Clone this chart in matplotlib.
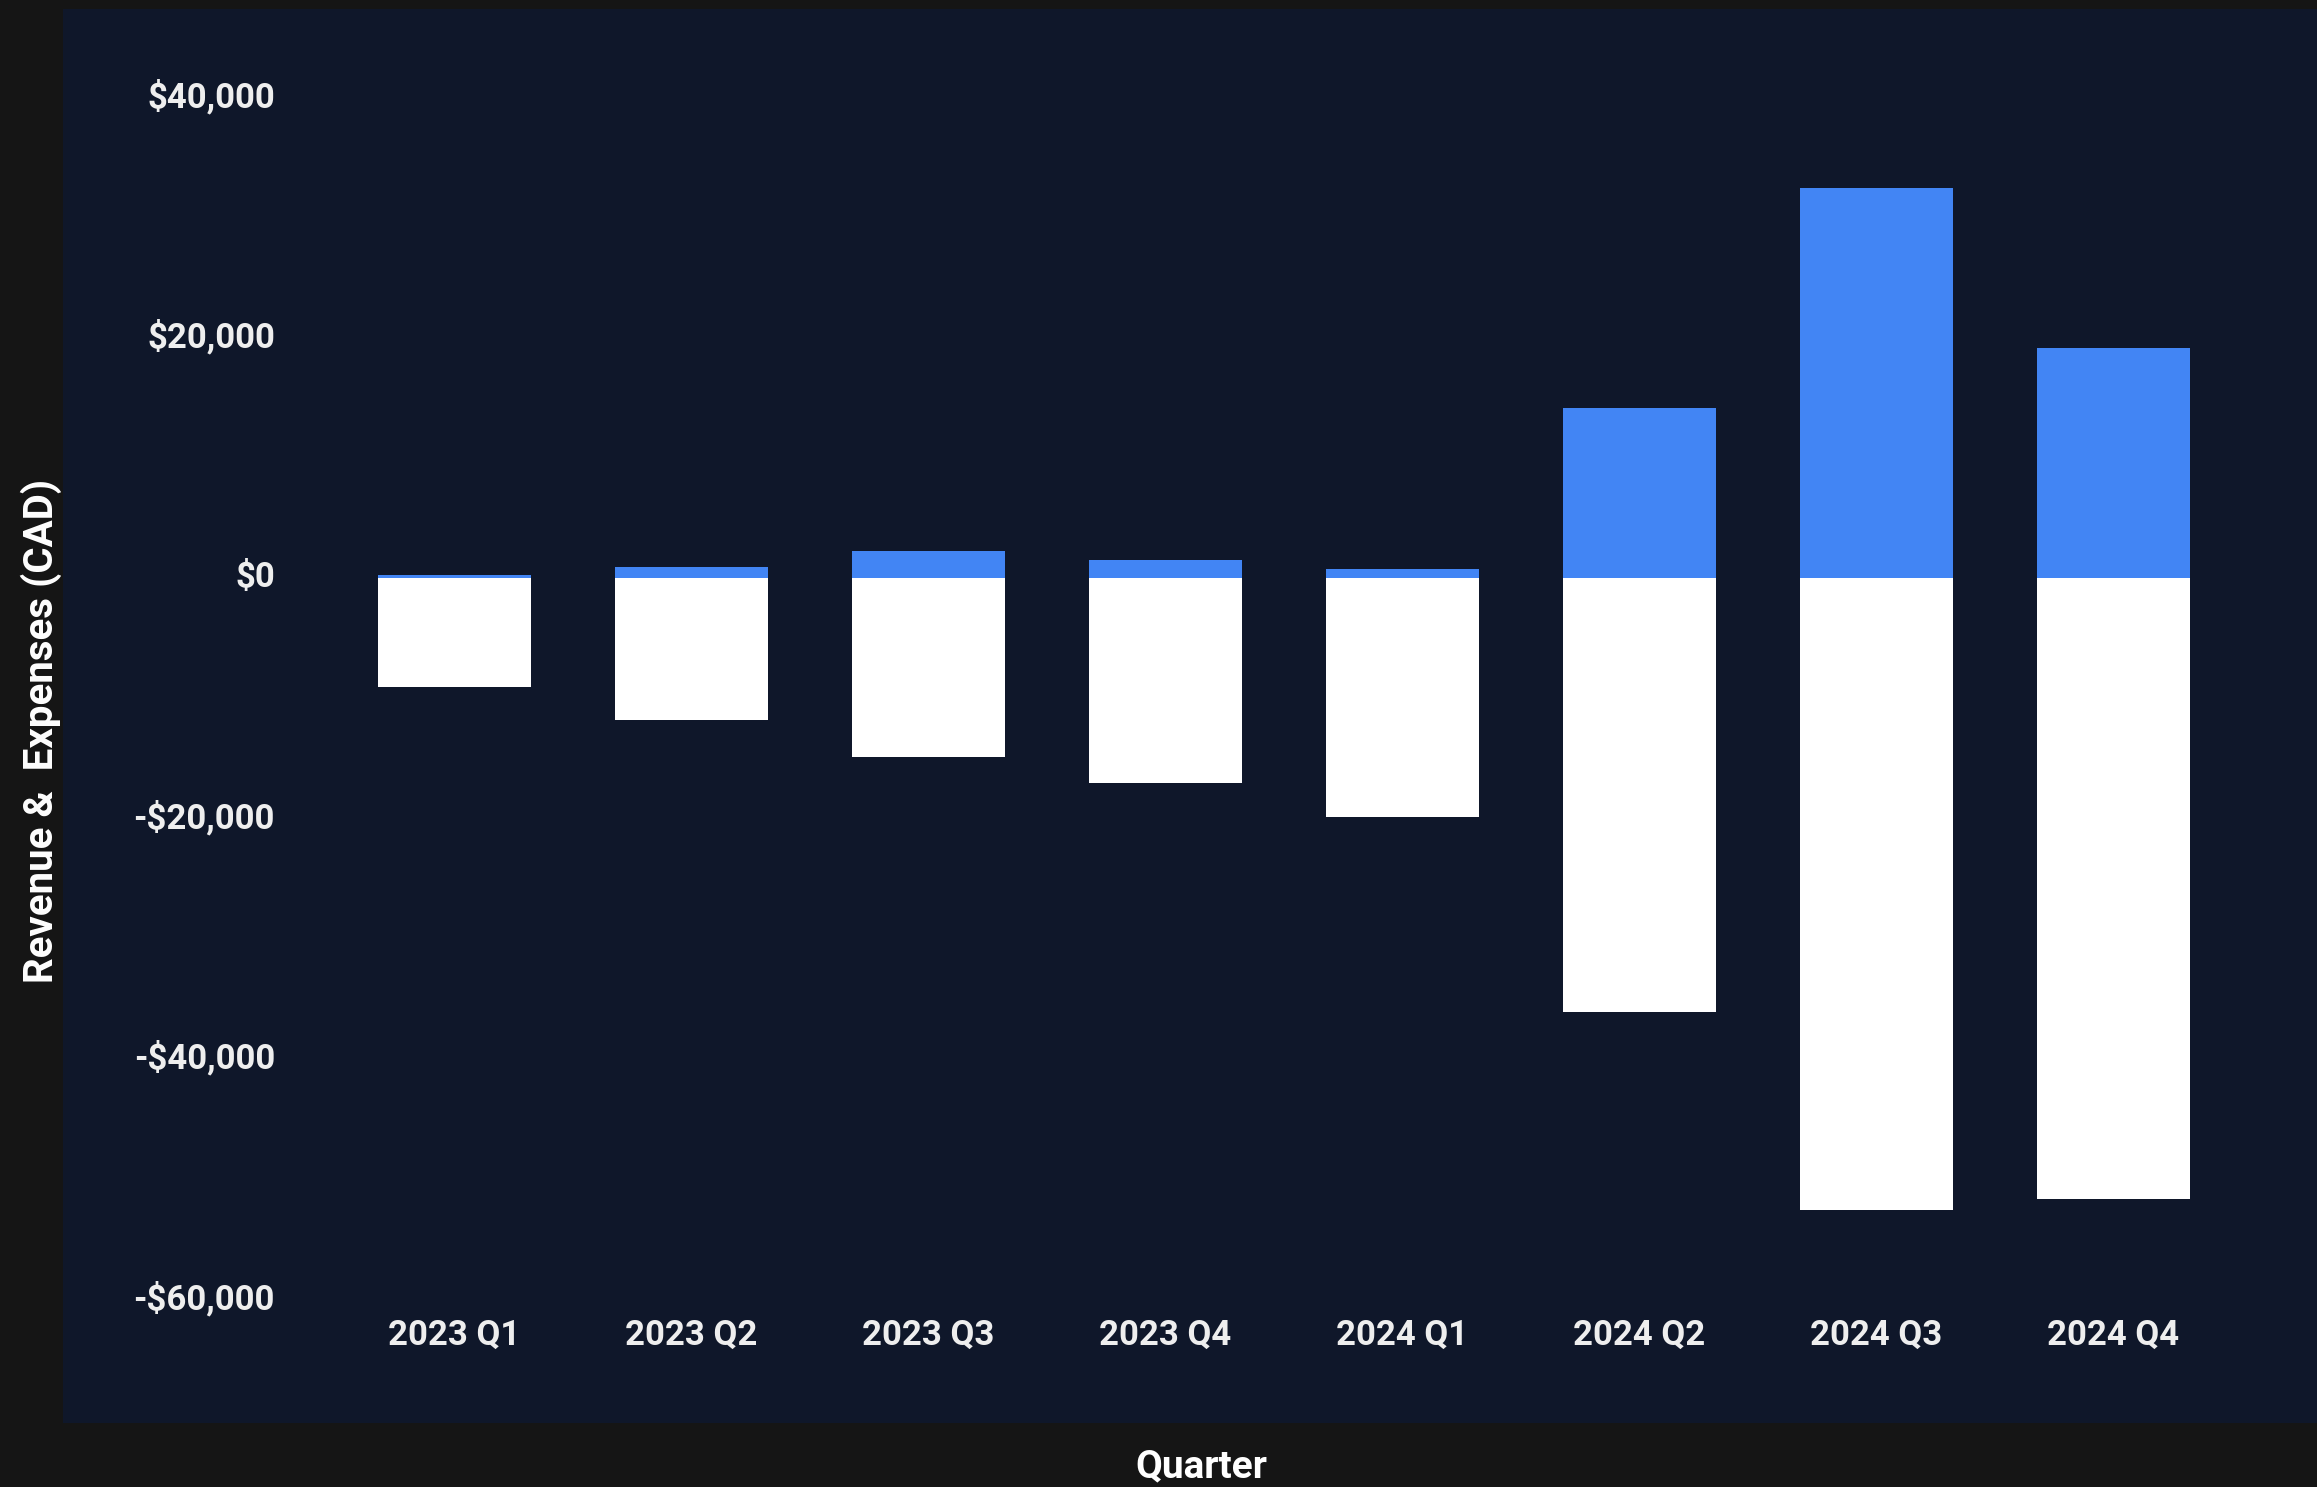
import matplotlib
matplotlib.use('Agg')
from matplotlib import pyplot as plt
from matplotlib.ticker import FuncFormatter
from matplotlib.transforms import ScaledTranslation
import numpy as np

quarters = ['2023 Q1', '2023 Q2', '2023 Q3', '2023 Q4',
            '2024 Q1', '2024 Q2', '2024 Q3', '2024 Q4']
revenue = [250, 940, 2190, 1440, 720, 14150, 32400, 19100]
expenses = [9100, 11800, 14900, 17100, 19900, 36100, 52600, 51700]
yticks = [-60000, -40000, -20000, 0, 20000, 40000]


def money(v, pos):
    if v < 0:
        return '-${:,.0f}'.format(-v)
    return '${:,.0f}'.format(v)


if __name__ == '__main__':
    plt.rcParams['font.family'] = ['Roboto', 'DejaVu Sans']
    W, H = 2317, 1487
    fig = plt.figure(figsize=(W / 100, H / 100), dpi=100, facecolor='#151515')

    # navy panel behind the chart
    panel = fig.add_axes([63 / W, 1 - 1423 / H, 1 - 63 / W, (1423 - 9) / H])
    panel.set_facecolor('#0f172a')
    panel.set_xticks([])
    panel.set_yticks([])
    for s in panel.spines.values():
        s.set_visible(False)

    ax = fig.add_axes([336 / W, 1 - 1299 / H, (2232 - 336) / W, (1299 - 97) / H])
    ax.set_facecolor('none')
    x = np.arange(len(quarters))
    ax.bar(x, revenue, width=0.646, color='#4285f4', zorder=2)
    ax.bar(x, [-e for e in expenses], width=0.646, color='#ffffff', zorder=2)

    ax.set_xlim(-0.5, len(quarters) - 0.5)
    ax.set_ylim(-60000, 40000)
    ax.set_xticks(x)
    ax.set_xticklabels(quarters)
    ax.set_yticks(yticks)
    ax.yaxis.set_major_formatter(FuncFormatter(money))
    ax.tick_params(axis='both', length=0, colors='#eeeeee', labelsize=25)
    ax.tick_params(axis='y', pad=44)
    ax.tick_params(axis='x', pad=14)
    up = ScaledTranslation(0, 0.04, fig.dpi_scale_trans)
    for lab in ax.get_yticklabels():
        lab.set_transform(lab.get_transform() + up)
    for lab in ax.get_xticklabels() + ax.get_yticklabels():
        lab.set_fontweight('bold')
    for s in ax.spines.values():
        s.set_visible(False)

    fig.text(41 / W, 1 - 731 / H, 'Revenue &  Expenses (CAD)', rotation=90,
             ha='center', va='center', color='white', fontsize=29, fontweight='bold')
    fig.text(1201 / W, 1 - 1467 / H, 'Quarter', ha='center', va='center',
             color='white', fontsize=28, fontweight='bold')

    plt.savefig('out.png', dpi=100, facecolor=fig.get_facecolor())
